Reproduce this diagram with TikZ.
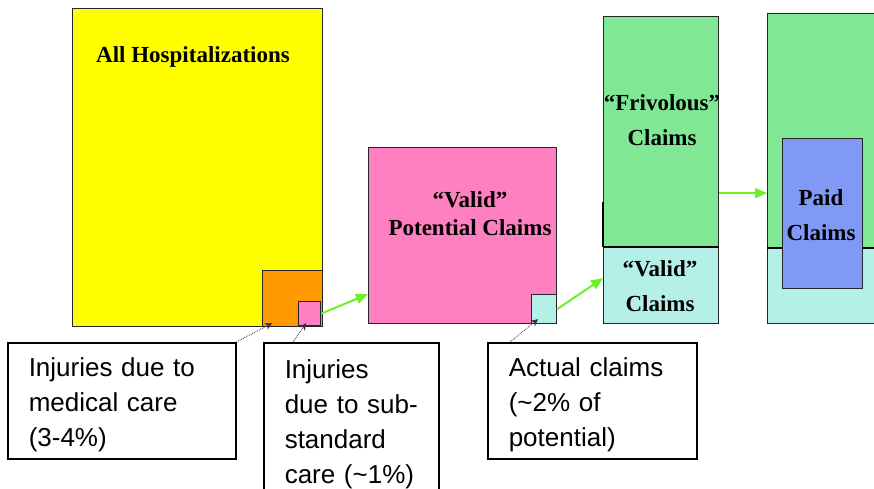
\documentclass[tikz,border=0pt]{standalone}
\usepackage{fontspec}
\setmainfont{Liberation Serif}
\setsansfont{Liberation Sans}
\usetikzlibrary{positioning, arrows.meta, calc}

\definecolor{hospyellow}{RGB}{255,255,0}
\definecolor{injorange}{RGB}{255,153,0}
\definecolor{validpink}{RGB}{255,128,192}
\definecolor{claimcyan}{RGB}{180,240,232}
\definecolor{claimgreen}{RGB}{128,232,148}
\definecolor{paidblue}{RGB}{128,153,245}
\definecolor{arrgreen}{RGB}{110,240,40}

\newcommand{\toppad}{\rule{0pt}{27pt}}

\begin{document}
\begin{tikzpicture}[
    x=1pt, y=-1pt,
    area/.style={rectangle, draw=black!85, line width=1.2pt, anchor=north west, inner sep=0pt},
    lbl/.style={font=\bfseries\fontsize{23}{35}\selectfont, align=center},
    callout/.style={rectangle, draw=black, line width=1.5pt, fill=white, anchor=north west, align=left, inner xsep=21pt, inner ysep=0pt, font=\sffamily\fontsize{26}{35}\selectfont},
    garr/.style={-{Triangle[length=12pt, width=10pt]}, draw=arrgreen, line width=2pt},
    parr/.style={-{Stealth[length=7pt, width=7pt]}, densely dotted, black!80, line width=0.8pt},
]
\useasboundingbox (0,0) rectangle (874,489);

% all hospitalizations and the injuries inside them
\node [area, fill=hospyellow, minimum width=250pt, minimum height=318pt] (hosp) at (72,8) {};
\node [area, fill=injorange, minimum width=60pt, minimum height=56pt] (medcare) at (262,270) {};
\node [area, fill=validpink, minimum width=22pt, minimum height=24pt] (substd) at (298,301) {};

% potential claims
\node [area, fill=validpink, minimum width=188pt, minimum height=176pt] (potential) at (368,147) {};
\node [area, fill=claimcyan, minimum width=25pt, minimum height=29pt] (actual) at (531,294) {};

% claims filed
\node [area, fill=claimgreen, minimum width=115pt, minimum height=231pt] (friv) at (603,16) {};
\node [area, fill=claimcyan, minimum width=115pt, minimum height=76pt] (validc) at (603,247) {};
\draw [line width=2.5pt] (validc.north west) -- (validc.north east);
\draw [line width=2.5pt] ([yshift=45pt]validc.north west) -- (validc.north west);

% claims paid
\node [area, fill=claimgreen, minimum width=130pt, minimum height=235pt] (paidtop) at (767,13) {};
\node [area, fill=claimcyan, minimum width=130pt, minimum height=75pt] (paidbot) at (767,248) {};
\draw [line width=2pt] (paidbot.north west) -- (paidbot.north east);
\node [area, fill=paidblue, minimum width=80pt, minimum height=150pt] (paid) at (782,138) {};

\node [lbl] (hosplbl) at (193,57) {All Hospitalizations};
\node [lbl, font=\bfseries\fontsize{23}{28}\selectfont] (potlbl) at (470,214) {“Valid”\\Potential Claims};
\node [lbl] (frivlbl) at (662,120) {“Frivolous”\\Claims};
\node [lbl] (validlbl) at (660,286) {“Valid”\\Claims};
\node [lbl] (paidlbl) at (821,215) {Paid\\Claims};

\coordinate (frivout) at ([yshift=-61pt]friv.east);
\draw [garr] (substd.east) -- ([yshift=30pt]potential.south west);
\draw [garr] (actual.east) -- ([yshift=46pt]validc.south west);
\draw [garr] (frivout) -- (frivout -| paidtop.west);

% callouts
\node [callout, text width=186pt, minimum height=116pt] (medtxt) at (7,342) {
  \toppad Injuries due to\\
  medical care\\
  (3-4\%)
};
\node [callout, text width=133pt, minimum height=155pt] (subtxt) at (263,342) {
  \toppad Injuries\\
  due to sub-\\
  standard\\
  care (\textasciitilde 1\%)
};
\node [callout, text width=167pt, minimum height=116pt] (acttxt) at (487,342) {
  \toppad Actual claims\\
  (\textasciitilde 2\% of\\
  potential)
};

\draw [parr] (medtxt.north east) -- ([xshift=10pt, yshift=4pt]medcare.south west);
\draw [parr] ([xshift=30pt]subtxt.north west) -- ([xshift=8pt, yshift=3pt]substd.south west);
\draw [parr] ([xshift=23pt]acttxt.north west) -- ([xshift=7pt, yshift=5pt]actual.south west);

\end{tikzpicture}
\end{document}
